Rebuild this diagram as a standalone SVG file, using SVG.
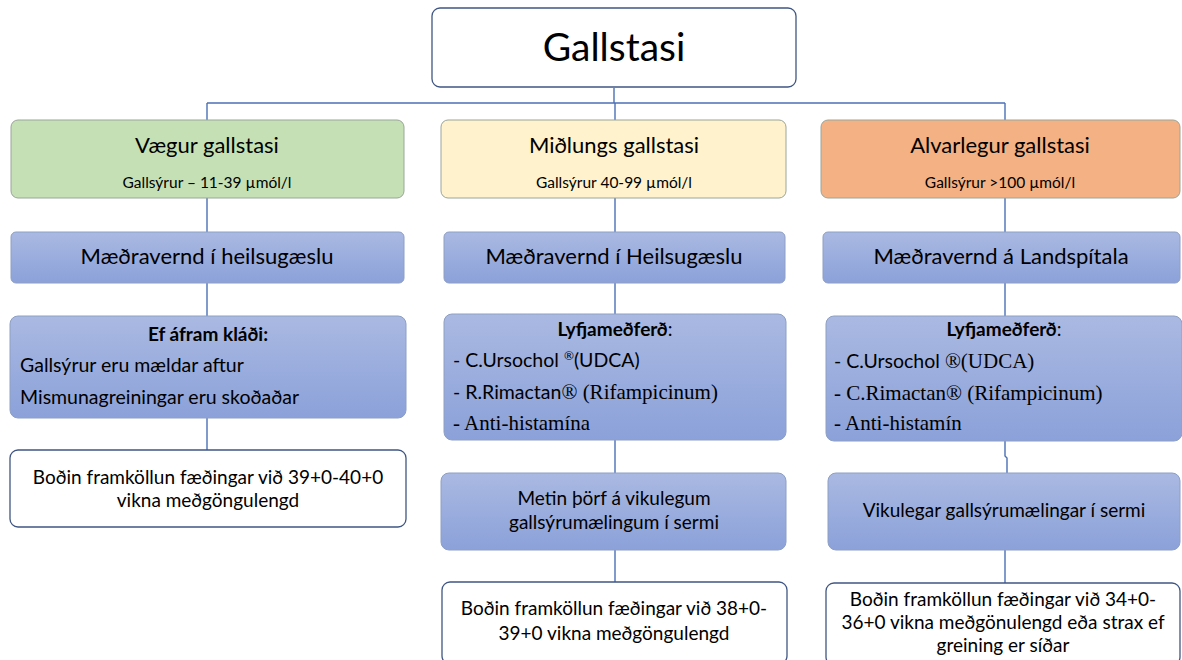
<svg xmlns="http://www.w3.org/2000/svg" width="1182" height="660" viewBox="0 0 1182 660">
<defs>
<linearGradient id="blue" x1="0" y1="0" x2="0" y2="1">
<stop offset="0" stop-color="#aab9e2"/>
<stop offset="1" stop-color="#8ba1d9"/>
</linearGradient>
<style>
text{font-family:Lato,"Open Sans","Liberation Sans",sans-serif;fill:#000;}
.c{text-anchor:middle;}
.serif{font-family:"Liberation Serif","DejaVu Serif",serif;font-size:21px;}
.b{font-weight:bold;}
.white{fill:#fff;stroke:#3f5683;stroke-width:1.3;}
.blue{fill:url(#blue);stroke:#8e9fc4;stroke-width:1;}
.cat{stroke:#9aa59a;stroke-width:1;}
.conn line,.conn polyline{stroke:#4a6fb5;stroke-width:1.4;fill:none;}
.t20{font-size:22px;}
.t13{font-size:15.5px;}
.t17{font-size:19px;}
.t18{font-size:19.5px;}
</style>
</defs>
<rect width="1182" height="660" fill="#fff"/>
<g class="conn" id="connectors">
<polyline points="614,88 614,103"/>
<line x1="207" y1="103" x2="1005" y2="103"/>
<line x1="207" y1="103" x2="207" y2="120"/>
<line x1="615" y1="103" x2="615" y2="120"/>
<line x1="1005" y1="103" x2="1005" y2="120"/>
<line x1="207" y1="198" x2="207" y2="232"/>
<line x1="615" y1="198" x2="615" y2="232"/>
<line x1="1005" y1="198" x2="1005" y2="232"/>
<line x1="207" y1="283" x2="207" y2="316"/>
<line x1="615" y1="283" x2="615" y2="315"/>
<line x1="1005" y1="283" x2="1005" y2="316"/>
<line x1="207" y1="418" x2="207" y2="450"/>
<line x1="615" y1="440" x2="615" y2="473"/>
<polyline points="1005,441 1005,456 1007,458 1007,473"/>
<line x1="615" y1="550" x2="615" y2="582"/>
<line x1="1005" y1="550" x2="1005" y2="583"/>
</g>
<g id="root">
<rect class="white" x="432" y="8" width="364" height="79" rx="8"/>
<text class="c" x="614" y="61" font-size="39">Gallstasi</text>
</g>
<g id="mild">
<rect class="cat" x="11" y="120" width="393" height="78" rx="7" fill="#c5e0b4"/>
<text class="c t20" x="207" y="153">Vægur gallstasi</text>
<text class="c t13" x="207" y="188">Gallsýrur – 11-39 µmól/l</text>
</g>
<g id="moderate">
<rect class="cat" x="441" y="120" width="345" height="78" rx="7" fill="#fff2cc"/>
<text class="c t20" x="614" y="153">Miðlungs gallstasi</text>
<text class="c t13" x="614" y="188">Gallsýrur 40-99 µmól/l</text>
</g>
<g id="severe">
<rect class="cat" x="821" y="120" width="359" height="78" rx="7" fill="#f4b183"/>
<text class="c t20" x="1000" y="153">Alvarlegur gallstasi</text>
<text class="c t13" x="1000" y="188">Gallsýrur &gt;100 µmól/l</text>
</g>
<g id="care-left">
<rect class="blue" x="11" y="232" width="393" height="51" rx="5"/>
<text class="c t20" x="207" y="264">Mæðravernd í heilsugæslu</text>
</g>
<g id="care-mid">
<rect class="blue" x="444" y="232" width="341" height="51" rx="5"/>
<text class="c t20" x="614" y="264">Mæðravernd í Heilsugæslu</text>
</g>
<g id="care-right">
<rect class="blue" x="823" y="232" width="357" height="51" rx="5"/>
<text class="c t20" x="1001" y="264">Mæðravernd á Landspítala</text>
</g>
<g id="itch-left">
<rect class="blue" x="10" y="316" width="396" height="102" rx="8"/>
<text class="c b t17" x="208" y="341">Ef áfram kláði:</text>
<text class="t18" x="20" y="372">Gallsýrur eru mældar aftur</text>
<text class="t18" x="20" y="404">Mismunagreiningar eru skoðaðar</text>
</g>
<g id="drugs-mid">
<rect class="blue" x="444" y="314" width="342" height="126" rx="8"/>
<text class="c t17" x="615" y="336"><tspan class="b">Lyfjameðferð</tspan>:</text>
<text class="t18" x="453" y="367">- C.Ursochol <tspan font-size="12" dy="-7">®</tspan><tspan dy="7">(UDCA)</tspan></text>
<text class="t18" x="453" y="399">- R.Rimactan<tspan class="serif">® (Rifampicinum)</tspan></text>
<text class="serif" x="453" y="430">- Anti-histamína</text>
</g>
<g id="drugs-right">
<rect class="blue" x="826" y="316" width="356" height="125" rx="8"/>
<text class="c t17" x="1004" y="336"><tspan class="b">Lyfjameðferð</tspan>:</text>
<text class="t18" x="834" y="368">- C.Ursochol <tspan class="serif">®(UDCA)</tspan></text>
<text class="serif" x="834" y="400">- C.Rimactan® (Rifampicinum)</text>
<text class="serif" x="834" y="430">- Anti-histamín</text>
</g>
<g id="induce-left">
<rect class="white" x="10" y="450" width="396" height="77" rx="8"/>
<text class="c t17" x="208" y="484">Boðin framköllun fæðingar við 39+0-40+0</text>
<text class="c t17" x="208" y="507">vikna meðgöngulengd</text>
</g>
<g id="weekly-mid">
<rect class="blue" x="441" y="473" width="345" height="77" rx="8"/>
<text class="c t17" x="614" y="505">Metin þörf á vikulegum</text>
<text class="c t17" x="614" y="529">gallsýrumælingum í sermi</text>
</g>
<g id="weekly-right">
<rect class="blue" x="828" y="473" width="352" height="77" rx="8"/>
<text class="c t17" x="1004" y="517">Vikulegar gallsýrumælingar í sermi</text>
</g>
<g id="induce-mid">
<rect class="white" x="442" y="582" width="345" height="82" rx="8"/>
<text class="c t17" x="614" y="615">Boðin framköllun fæðingar við 38+0-</text>
<text class="c t17" x="614" y="640">39+0 vikna meðgöngulengd</text>
</g>
<g id="induce-right">
<rect class="white" x="826" y="583" width="354" height="82" rx="8"/>
<text class="c t17" x="1003" y="606">Boðin framköllun fæðingar við 34+0-</text>
<text class="c t17" x="1003" y="629">36+0 vikna meðgönulengd eða strax ef</text>
<text class="c t17" x="1003" y="652">greining er síðar</text>
</g>
</svg>
